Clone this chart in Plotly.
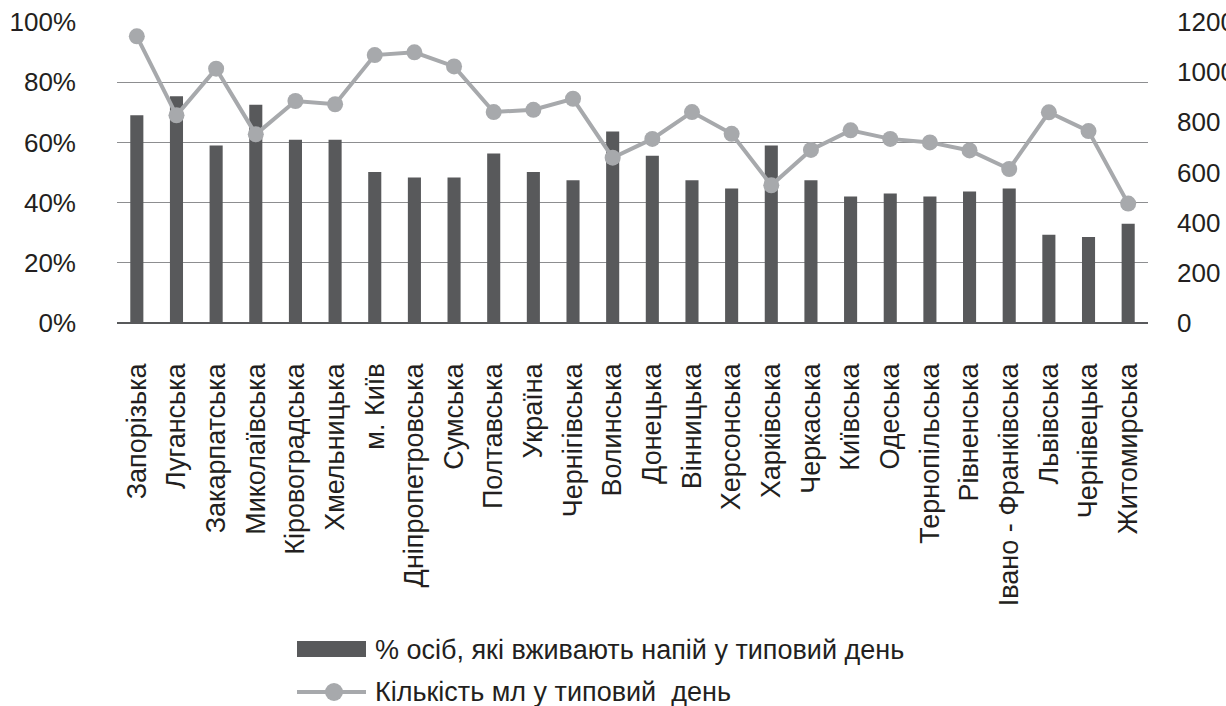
import plotly.graph_objects as go

# Regions of Ukraine (plus national total)
regions = [
    "Запорізька", "Луганська", "Закарпатська", "Миколаївська", "Кіровоградська",
    "Хмельницька", "м. Київ", "Дніпропетровська", "Сумська", "Полтавська",
    "Україна", "Чернігівська", "Волинська", "Донецька", "Вінницька",
    "Херсонська", "Харківська", "Черкаська", "Київська", "Одеська",
    "Тернопільська", "Рівненська", "Івано - Франківська", "Львівська",
    "Чернівецька", "Житомирська",
]

# Share of people who drink on a typical day, %
share_pct = [
    69.0, 75.3, 59.0, 72.5, 60.9, 60.9, 50.2, 48.3, 48.3, 56.3,
    50.2, 47.4, 63.6, 55.6, 47.4, 44.7, 59.0, 47.4, 42.0, 43.0,
    42.0, 43.7, 44.7, 29.3, 28.6, 33.0,
]

# Millilitres consumed on a typical day
volume_ml = [
    1143, 828, 1014, 752, 885, 872, 1068, 1079, 1023, 841,
    850, 894, 659, 734, 841, 754, 549, 690, 768, 734,
    720, 688, 614, 840, 765, 476,
]

left_ticks = [0, 20, 40, 60, 80, 100]
right_ticks = [0, 200, 400, 600, 800, 1000, 1200]

bar_name = "% осіб, які вживають напій у типовий день"
line_name = "Кількість мл у типовий\u00a0 день"

BAR_COLOR = "#58595b"
LINE_COLOR = "#a7a9ac"
TEXT_COLOR = "#231f20"
FONT = "Liberation Sans, Arial, sans-serif"

W, H = 1226, 706
L, R, T, B = 117, 78, 22, 383

fig = go.Figure()
fig.add_trace(go.Bar(
    x=regions, y=share_pct, name=bar_name,
    marker=dict(color=BAR_COLOR, line=dict(width=0)),
    width=0.33, yaxis="y",
))
fig.add_trace(go.Scatter(
    x=regions, y=volume_ml, name=line_name, mode="lines+markers",
    line=dict(color=LINE_COLOR, width=4),
    marker=dict(color=LINE_COLOR, size=16),
    yaxis="y2",
))

fig.update_layout(
    width=W, height=H,
    margin=dict(l=L, r=R, t=T, b=B, autoexpand=False),
    paper_bgcolor="white", plot_bgcolor="white",
    font=dict(family=FONT, size=26, color=TEXT_COLOR),
    showlegend=False,
    xaxis=dict(
        type="category", range=[-0.5, len(regions) - 0.5],
        tickangle=-90, ticks="", showgrid=False,
        showline=False, zeroline=False,
        tickfont=dict(size=27), ticklabelstandoff=34,
    ),
    yaxis=dict(
        range=[0, 100], tickvals=left_ticks,
        ticktext=[f"{v}%" for v in left_ticks],
        showgrid=True, gridcolor="#8d8e90", gridwidth=1.2,
        zeroline=True, zerolinecolor="#58595b", zerolinewidth=2,
        ticks="", showline=False, ticklabelstandoff=40,
    ),
    yaxis2=dict(
        range=[0, 1200], tickvals=right_ticks, overlaying="y", side="right",
        showgrid=False, zeroline=False, ticks="", showline=False,
        ticklabelstandoff=28,
    ),
)

# Legend drawn below the chart
def px_x(p):
    return (p - L) / (W - L - R)

def px_y(p):
    return (H - B - p) / (H - B - T)

fig.add_shape(type="rect", xref="paper", yref="paper",
              x0=px_x(297), x1=px_x(366), y0=px_y(641), y1=px_y(657),
              fillcolor=BAR_COLOR, line=dict(width=0))
fig.add_shape(type="line", xref="paper", yref="paper",
              x0=px_x(297), x1=px_x(366), y0=px_y(692), y1=px_y(692),
              line=dict(color=LINE_COLOR, width=4))
fig.add_shape(type="circle", xref="paper", yref="paper",
              x0=px_x(325), x1=px_x(343), y0=px_y(683), y1=px_y(701),
              fillcolor=LINE_COLOR, line=dict(width=0))
fig.add_annotation(text=bar_name, xref="paper", yref="paper",
                   x=px_x(373), y=px_y(650), xanchor="left", yanchor="middle",
                   showarrow=False, font=dict(size=27, color=TEXT_COLOR))
fig.add_annotation(text=line_name, xref="paper", yref="paper",
                   x=px_x(373), y=px_y(692), xanchor="left", yanchor="middle",
                   showarrow=False, font=dict(size=27, color=TEXT_COLOR))

fig.write_html("out.html")
